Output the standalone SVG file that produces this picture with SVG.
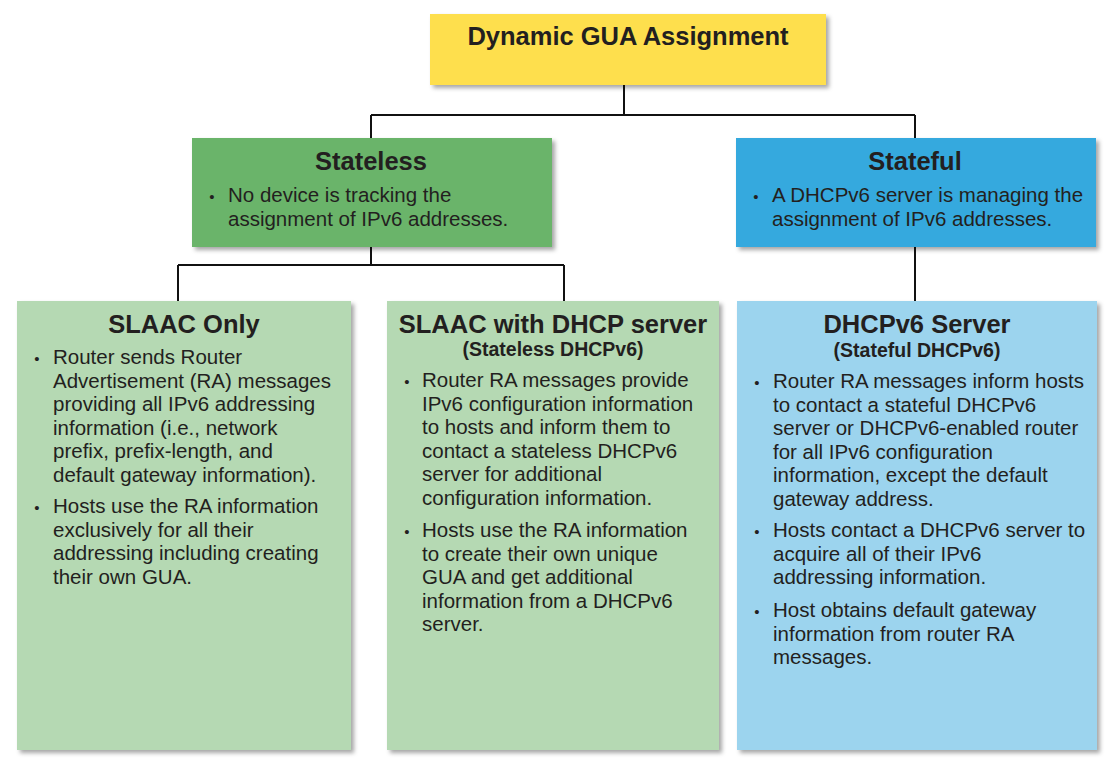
<svg xmlns="http://www.w3.org/2000/svg" width="1114" height="769" viewBox="0 0 1114 769">
<defs>
<filter id="sh" x="-5%" y="-5%" width="115%" height="115%">
<feDropShadow dx="3" dy="3" stdDeviation="2" flood-color="#000" flood-opacity="0.35"/>
</filter>
</defs>
<style>
text{font-family:"Liberation Sans",Arial,sans-serif;fill:#231f20}
.t{font-size:25.5px;font-weight:bold;text-anchor:middle}
.st{font-size:19.5px;font-weight:bold;text-anchor:middle}
.b{font-size:20.5px}
.d{font-size:15px;text-anchor:middle}
.ln{stroke:#111;stroke-width:2;fill:none}
</style>
<rect width="1114" height="769" fill="#fff"/>
<g id="connectors">
<path class="ln" d="M624 85V115M371 115H915M371 115V138M915 115V138"/>
<path class="ln" d="M371 247V265M178 265H564M178 265V301M564 265V301"/>
<path class="ln" d="M915 247V301"/>
</g>
<g id="dynamic-gua">
<rect x="430" y="14" width="396" height="71" fill="#fedf4e" filter="url(#sh)"/>
<text class="t" x="628" y="45">Dynamic GUA Assignment</text>
</g>
<g id="stateless">
<rect x="192" y="138" width="360" height="109" fill="#6ab46a" filter="url(#sh)"/>
<text class="t" x="371" y="170">Stateless</text>
<text class="d" x="212" y="202">•</text>
<text class="b" x="228" y="202"><tspan x="228">No device is tracking the</tspan><tspan x="228" dy="23.5">assignment of IPv6 addresses.</tspan></text>
</g>
<g id="stateful">
<rect x="736" y="138" width="360" height="109" fill="#34a9de" filter="url(#sh)"/>
<text class="t" x="915" y="170">Stateful</text>
<text class="d" x="756" y="202">•</text>
<text class="b" x="772" y="202"><tspan x="772">A DHCPv6 server is managing the</tspan><tspan x="772" dy="23.5">assignment of IPv6 addresses.</tspan></text>
</g>
<g id="slaac-only">
<rect x="17" y="301" width="334" height="449" fill="#b5d9b3" filter="url(#sh)"/>
<text class="t" x="184" y="333">SLAAC Only</text>
<text class="d" x="37" y="364">•</text>
<text class="b" y="364"><tspan x="53">Router sends Router</tspan><tspan x="53" dy="23.5">Advertisement (RA) messages</tspan><tspan x="53" dy="23.5">providing all IPv6 addressing</tspan><tspan x="53" dy="23.5">information (i.e., network</tspan><tspan x="53" dy="23.5">prefix, prefix-length, and</tspan><tspan x="53" dy="23.5">default gateway information).</tspan></text>
<text class="d" x="37" y="513">•</text>
<text class="b" y="513"><tspan x="53">Hosts use the RA information</tspan><tspan x="53" dy="23.5">exclusively for all their</tspan><tspan x="53" dy="23.5">addressing including creating</tspan><tspan x="53" dy="23.5">their own GUA.</tspan></text>
</g>
<g id="slaac-dhcp">
<rect x="387" y="301" width="332" height="449" fill="#b5d9b3" filter="url(#sh)"/>
<text class="t" x="553" y="333">SLAAC with DHCP server</text>
<text class="st" x="553" y="356">(Stateless DHCPv6)</text>
<text class="d" x="407" y="387">•</text>
<text class="b" y="387"><tspan x="422">Router RA messages provide</tspan><tspan x="422" dy="23.5">IPv6 configuration information</tspan><tspan x="422" dy="23.5">to hosts and inform them to</tspan><tspan x="422" dy="23.5">contact a stateless DHCPv6</tspan><tspan x="422" dy="23.5">server for additional</tspan><tspan x="422" dy="23.5">configuration information.</tspan></text>
<text class="d" x="407" y="537">•</text>
<text class="b" y="537"><tspan x="422">Hosts use the RA information</tspan><tspan x="422" dy="23.5">to create their own unique</tspan><tspan x="422" dy="23.5">GUA and get additional</tspan><tspan x="422" dy="23.5">information from a DHCPv6</tspan><tspan x="422" dy="23.5">server.</tspan></text>
</g>
<g id="dhcpv6-server">
<rect x="737" y="301" width="360" height="449" fill="#9cd4ee" filter="url(#sh)"/>
<text class="t" x="917" y="333">DHCPv6 Server</text>
<text class="st" x="917" y="357">(Stateful DHCPv6)</text>
<text class="d" x="757" y="388">•</text>
<text class="b" y="388"><tspan x="773">Router RA messages inform hosts</tspan><tspan x="773" dy="23.5">to contact a stateful DHCPv6</tspan><tspan x="773" dy="23.5">server or DHCPv6-enabled router</tspan><tspan x="773" dy="23.5">for all IPv6 configuration</tspan><tspan x="773" dy="23.5">information, except the default</tspan><tspan x="773" dy="23.5">gateway address.</tspan></text>
<text class="d" x="757" y="537">•</text>
<text class="b" y="537"><tspan x="773">Hosts contact a DHCPv6 server to</tspan><tspan x="773" dy="23.5">acquire all of their IPv6</tspan><tspan x="773" dy="23.5">addressing information.</tspan></text>
<text class="d" x="757" y="617">•</text>
<text class="b" y="617"><tspan x="773">Host obtains default gateway</tspan><tspan x="773" dy="23.5">information from router RA</tspan><tspan x="773" dy="23.5">messages.</tspan></text>
</g>
</svg>
